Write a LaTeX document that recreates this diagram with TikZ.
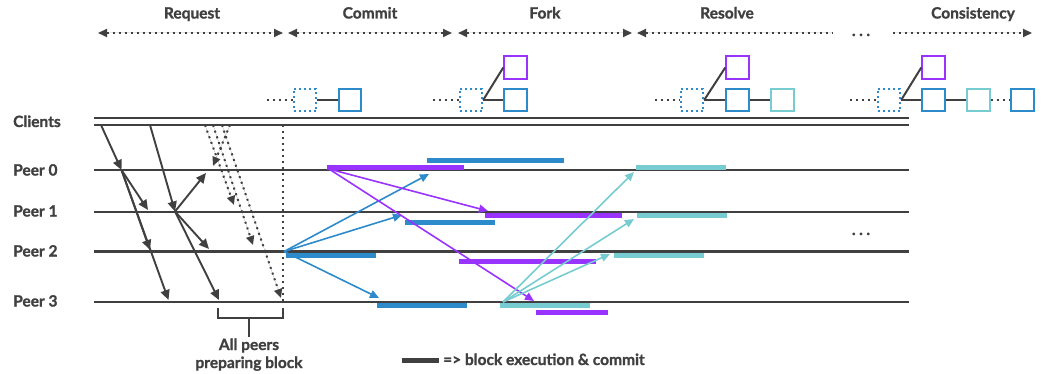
\documentclass[tikz,border=0pt]{standalone}
\usepackage{fontspec}
\setmainfont{Lato}[BoldFeatures={FakeBold=1.2}]
\usetikzlibrary{arrows.meta}
\definecolor{dk}{HTML}{404040}
\definecolor{bl}{HTML}{2E8BCB}
\definecolor{pu}{HTML}{9933FF}
\definecolor{cy}{HTML}{77CCD1}
\newcommand{\wdots}{.\hspace{3.5pt}.\hspace{3.5pt}.}
\begin{document}
\begin{tikzpicture}[x=1pt,y=-1pt,
 lbl/.style={font=\fontsize{15.5}{18}\selectfont\bfseries, text=dk, inner sep=0},
 tl/.style={line width=2, draw=dk},
 arr/.style={-{Triangle[length=10,width=9]}, line width=1.9},
 carr/.style={-{Triangle[length=9,width=8]}, line width=1.6},
 dotl/.style={line width=2, dash pattern=on 2 off 4, draw=dk},
 bar/.style={line width=5},
 blk/.style={draw, line width=1.9, minimum size=22.5, inner sep=0},
 dblk/.style={blk, draw=bl, dash pattern=on 2 off 3},
]
\useasboundingbox (0,0) rectangle (1046,374);
% headers
\node[lbl, anchor=base] (hReq) at (192,18.5) {Request};
\node[lbl, anchor=base] (hCom) at (370,18.5) {Commit};
\node[lbl, anchor=base] (hFork) at (545,18.5) {Fork};
\node[lbl, anchor=base] (hRes) at (727,18.5) {Resolve};
\node[lbl, anchor=base] (hCon) at (973,18.5) {Consistency};
% phase arrows
\coordinate (p1) at (98,33); \coordinate (p2) at (283,33);
\coordinate (p3) at (288,33); \coordinate (p4) at (452,33);
\coordinate (p5) at (458,33); \coordinate (p6) at (632,33);
\coordinate (p7) at (637,33); \coordinate (p8) at (832,33);
\coordinate (p9) at (893,33); \coordinate (p10) at (1032,33);
\draw[dotl, {Triangle[length=9,width=8]}-{Triangle[length=9,width=8]}, fill=dk] (p1) -- (p2);
\draw[dotl, {Triangle[length=9,width=8]}-{Triangle[length=9,width=8]}, fill=dk] (p3) -- (p4);
\draw[dotl, {Triangle[length=9,width=8]}-{Triangle[length=9,width=8]}, fill=dk] (p5) -- (p6);
\draw[dotl, {Triangle[length=9,width=8]}-, fill=dk] (p7) -- (p8);
\node[lbl, anchor=base] (hdots) at (861,36) {\wdots};
\draw[dotl, -{Triangle[length=9,width=8]}, fill=dk] (p9) -- (p10);
% commit
\coordinate (c0s) at (267,100);
\node[dblk] (c0) at (305,100) {};
\node[blk, draw=bl] (c1) at (350,100) {};
\draw[dotl] (c0s) -- (c0.west);
\draw[tl] (c0.east) -- (c1.west);
% fork
\coordinate (f0s) at (433,100);
\node[dblk] (f0) at (471,100) {};
\node[blk, draw=bl] (f1) at (515.5,100) {};
\node[blk, draw=pu] (f2) at (515.5,67.5) {};
\draw[dotl] (f0s) -- (f0.west);
\draw[tl] (f0.east) -- (f1.west);
\draw[tl] (f0.east) -- (f2.west);
% resolve
\coordinate (r0s) at (655,100);
\node[dblk] (r0) at (692,100) {};
\node[blk, draw=bl] (r1) at (737.5,100) {};
\node[blk, draw=pu] (r2) at (737.5,67.5) {};
\node[blk, draw=cy] (r3) at (782.5,100) {};
\draw[dotl] (r0s) -- (r0.west);
\draw[tl] (r0.east) -- (r1.west);
\draw[tl] (r0.east) -- (r2.west);
\draw[tl] (r1.east) -- (r3.west);
% consistency
\coordinate (k0s) at (850,100);
\node[dblk] (k0) at (889,100) {};
\node[blk, draw=bl] (k1) at (933.5,100) {};
\node[blk, draw=pu] (k2) at (933.5,67.5) {};
\node[blk, draw=cy] (k3) at (978.5,100) {};
\node[blk, draw=bl] (k4) at (1022.5,100) {};
\draw[dotl] (k0s) -- (k0.west);
\draw[tl] (k0.east) -- (k1.west);
\draw[tl] (k0.east) -- (k2.west);
\draw[tl] (k1.east) -- (k3.west);
\draw[dotl] (k3.east) -- (k4.west);
% row labels
\node[lbl, anchor=base west] (lC) at (13,127) {Clients};
\node[lbl, anchor=base west] (l0) at (13,175.5) {Peer 0};
\node[lbl, anchor=base west] (l1) at (13,216.5) {Peer 1};
\node[lbl, anchor=base west] (l2) at (13,256.5) {Peer 2};
\node[lbl, anchor=base west] (l3) at (13,306.5) {Peer 3};
% lines
\coordinate (ca1) at (94,118); \coordinate (ca2) at (909,118);
\coordinate (cb1) at (94,125); \coordinate (cb2) at (909,125);
\coordinate (q01) at (94,170); \coordinate (q02) at (909,170);
\coordinate (q11) at (94,211.5); \coordinate (q12) at (909,211.5);
\coordinate (q21) at (94,251.5); \coordinate (q22) at (909,251.5);
\coordinate (q31) at (94,301.5); \coordinate (q32) at (909,301.5);
\draw[tl] (ca1) -- (ca2);
\draw[tl] (cb1) -- (cb2);
\draw[tl] (q01) -- (q02);
\draw[tl] (q11) -- (q12);
\draw[tl, line width=2.3] (q21) -- (q22);
\draw[tl] (q31) -- (q32);
\node[lbl, anchor=base] (rdots) at (861,235) {\wdots};
% black request arrows
\coordinate (a0) at (101,125); \coordinate (a1) at (121.5,170);
\coordinate (a2) at (148,210); \coordinate (a3) at (150,250); \coordinate (a4) at (168.5,300);
\coordinate (b0) at (150,125); \coordinate (b1) at (175,211.5);
\coordinate (b2) at (206,173); \coordinate (b3) at (209,249); \coordinate (b4) at (219,300);
\draw[arr, dk] (a0) -- (a1);
\draw[arr, dk] (a1) -- (a2);
\draw[arr, dk] (a1) -- (a3);
\draw[arr, dk] (a1) -- (a4);
\draw[arr, dk] (b0) -- (b1);
\draw[arr, dk] (b1) -- (b2);
\draw[arr, dk] (b1) -- (b3);
\draw[arr, dk] (b1) -- (b4);
% dotted preparing arrows
\coordinate (d0s) at (230,125); \coordinate (d0e) at (213,166);
\coordinate (d1s) at (205,125); \coordinate (d1e) at (234,205);
\coordinate (d2s) at (213,125); \coordinate (d2e) at (253,245);
\coordinate (d3s) at (222,125); \coordinate (d3e) at (281,298);
\coordinate (vs) at (283,125); \coordinate (ve) at (283,301.5);
\draw[dotl, -{Triangle[length=9,width=8]}, fill=dk] (d0s) -- (d0e);
\draw[dotl, -{Triangle[length=9,width=8]}, fill=dk] (d1s) -- (d1e);
\draw[dotl, -{Triangle[length=9,width=8]}, fill=dk] (d2s) -- (d2e);
\draw[dotl, -{Triangle[length=9,width=8]}, fill=dk] (d3s) -- (d3e);
\draw[dotl] (vs) -- (ve);
% bracket
\coordinate (k1a) at (218,308); \coordinate (k1b) at (218,318);
\coordinate (k2a) at (283,308); \coordinate (k2b) at (283,318);
\coordinate (km) at (249,318); \coordinate (kn) at (249,337);
\draw[tl] (k1a) -- (k1b) -- (k2b) -- (k2a);
\draw[tl] (km) -- (kn);
\node[lbl, anchor=base] (t1) at (249,350) {All peers};
\node[lbl, anchor=base] (t2) at (249,368) {preparing block};
% bars
\draw[bar, bl] (427,160.5) -- (564,160.5);
\draw[bar, pu] (327,167.5) -- (464,167.5);
\draw[bar, cy] (636,167.5) -- (726,167.5);
\draw[bar, pu] (485,215.5) -- (622,215.5);
\draw[bar, cy] (637,215.5) -- (727,215.5);
\draw[bar, bl] (405,222) -- (495,222);
\draw[bar, bl] (286,255) -- (376,255);
\draw[bar, cy] (614,255) -- (704,255);
\draw[bar, pu] (459,261.5) -- (596,261.5);
\draw[bar, bl] (377,305) -- (467,305);
\draw[bar, cy] (500,305) -- (590,305);
\draw[bar, pu] (536,312.5) -- (608,312.5);
% blue arrows
\coordinate (bs) at (284,251.5);
\coordinate (be0) at (429,174); \coordinate (be1) at (402,215); \coordinate (be3) at (379,298);
\draw[carr, bl] (bs) -- (be0);
\draw[carr, bl] (bs) -- (be1);
\draw[carr, bl] (bs) -- (be3);
% purple arrows
\coordinate (ps) at (329,169);
\coordinate (pe1) at (488,211); \coordinate (pe3) at (534,301);
\draw[carr, pu] (ps) -- (pe1);
\draw[carr, pu] (ps) -- (pe3);
% cyan arrows
\coordinate (cs) at (503,302);
\coordinate (ce0) at (634,172); \coordinate (ce1) at (634,219); \coordinate (ce2) at (610,254);
\draw[carr, cy] (cs) -- (ce0);
\draw[carr, cy] (cs) -- (ce1);
\draw[carr, cy] (cs) -- (ce2);
% legend
\coordinate (g1) at (402,360); \coordinate (g2) at (439,360);
\draw[bar, dk] (g1) -- (g2);
\node[lbl, anchor=base west] (gt) at (443,365) {=> block execution \& commit};
\end{tikzpicture}
\end{document}
